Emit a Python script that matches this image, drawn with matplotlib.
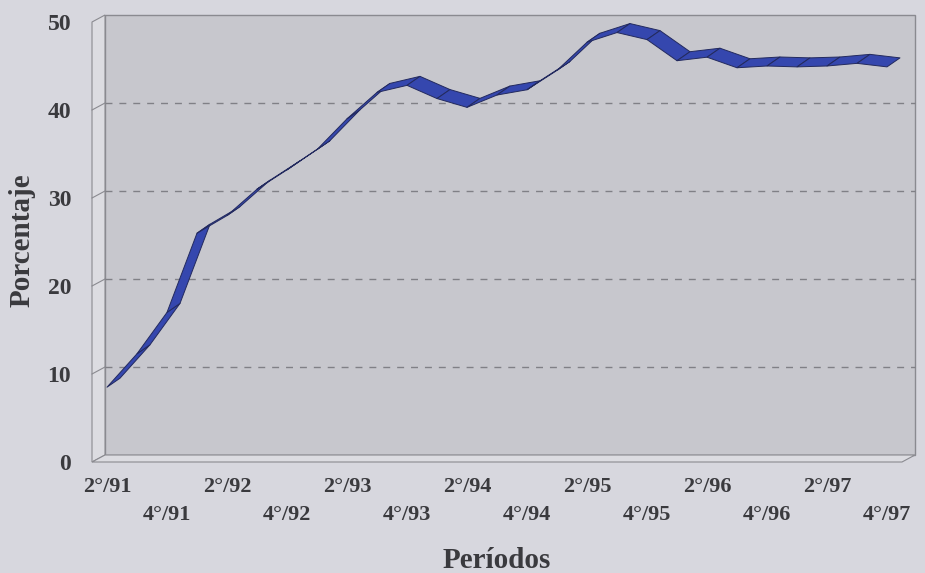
import numpy as np
import matplotlib.pyplot as plt
from matplotlib.patches import Polygon
from matplotlib import transforms

# quarterly share
periods = ['2°/91', '3°/91', '4°/91',
           '1°/92', '2°/92', '3°/92', '4°/92',
           '1°/93', '2°/93', '3°/93', '4°/93',
           '1°/94', '2°/94', '3°/94', '4°/94',
           '1°/95', '2°/95', '3°/95', '4°/95',
           '1°/96', '2°/96', '3°/96', '4°/96',
           '1°/97', '2°/97', '3°/97', '4°/97']
porcentaje = [8.5, 12.3, 17.0, 26.0, 28.0, 31.0, 33.2,
              35.5, 39.0, 42.0, 42.8, 41.3, 40.3, 41.7,
              42.3, 44.5, 47.7, 48.8, 48.0, 45.6, 46.0,
              44.8, 45.0, 44.9, 45.0, 45.3, 44.9]
yticks = [0, 10, 20, 30, 40, 50]

W, H = 925, 573
fig = plt.figure(figsize=(W/100, H/100), dpi=100)
fig.patch.set_facecolor('#d7d7de')

# front frame of the 3d box, pixels
left, right, bot, top = 92, 902, 462, 22
ax = fig.add_axes([left/W, 1-bot/H, (right-left)/W, (bot-top)/H])
ax.set_xlim(-0.5, len(periods)-0.5)
ax.set_ylim(0, 50)
ax.patch.set_visible(False)
for s in ax.spines.values():
    s.set_visible(False)

# depth of the box in pixels -> data units
dpx, dpy = 13, 7
pxx = (right-left)/len(periods)
pxy = (bot-top)/50
ddx, ddy = dpx/pxx, dpy/pxy
x0, x1 = -0.5, len(periods)-0.5

back = ax.transData + transforms.ScaledTranslation(dpx/100, dpy/100, fig.dpi_scale_trans)

edge = '#8a8a90'
ax.add_patch(Polygon([(x0, 0), (x1, 0), (x1, 50), (x0, 50)], closed=True,
                     facecolor='#c7c7cd', edgecolor=edge, lw=1.0,
                     transform=back, clip_on=False, zorder=0))
ax.add_patch(Polygon([(x0, 0), (x0, 50), (x0+ddx, 50+ddy), (x0+ddx, ddy)],
                     closed=True, facecolor='#dcdce1', edgecolor=edge, lw=0.8,
                     clip_on=False, zorder=0))
ax.add_patch(Polygon([(x0, 0), (x1, 0), (x1+ddx, ddy), (x0+ddx, ddy)],
                     closed=True, facecolor='#dcdce1', edgecolor=edge, lw=0.8,
                     clip_on=False, zorder=0))

for v in yticks[1:-1]:
    ax.plot([x0, x1], [v, v], transform=back, color='#808086', lw=1.0,
            ls=(0, (5, 5)), clip_on=False, zorder=1)
    ax.plot([x0, x0+ddx], [v, v+ddy], color=edge, lw=0.8, clip_on=False, zorder=1)

# ribbon: one quad per segment between front and back edge (a bit deeper than the box)
rdx, rdy = 13/pxx, 9/pxy
x = np.arange(len(porcentaje))
y = np.array(porcentaje)
for i in range(len(x)-1):
    quad = [(x[i], y[i]), (x[i+1], y[i+1]),
            (x[i+1]+rdx, y[i+1]+rdy), (x[i]+rdx, y[i]+rdy)]
    ax.add_patch(Polygon(quad, closed=True, facecolor='#3547ae',
                         edgecolor='#232a5e', lw=0.7, joinstyle='round',
                         clip_on=False, zorder=3))

font = dict(family='Liberation Serif', weight='bold', color='#3a3a3e')
ax.set_yticks(yticks)
ax.set_yticklabels([str(v) for v in yticks], fontsize=17, **font)
ax.set_xticks(x[::4])
ax.set_xticklabels(periods[::4], fontsize=16, **font)
ax.set_xticks(x[2::4], minor=True)
ax.set_xticklabels(periods[2::4], minor=True, fontsize=16, **font)
ax.tick_params(axis='y', length=0, pad=15)
ax.tick_params(axis='x', which='major', length=0, pad=11)
ax.tick_params(axis='x', which='minor', length=0, pad=31)

fig.text(22/W, 1-240/H, 'Porcentaje', rotation=90, ha='center', va='center',
         fontsize=21, **font)
fig.text(497/W, 1-560/H, 'Períodos', ha='center', va='center',
         fontsize=21, **font)

fig.savefig('out.png', dpi=100, facecolor=fig.get_facecolor())
